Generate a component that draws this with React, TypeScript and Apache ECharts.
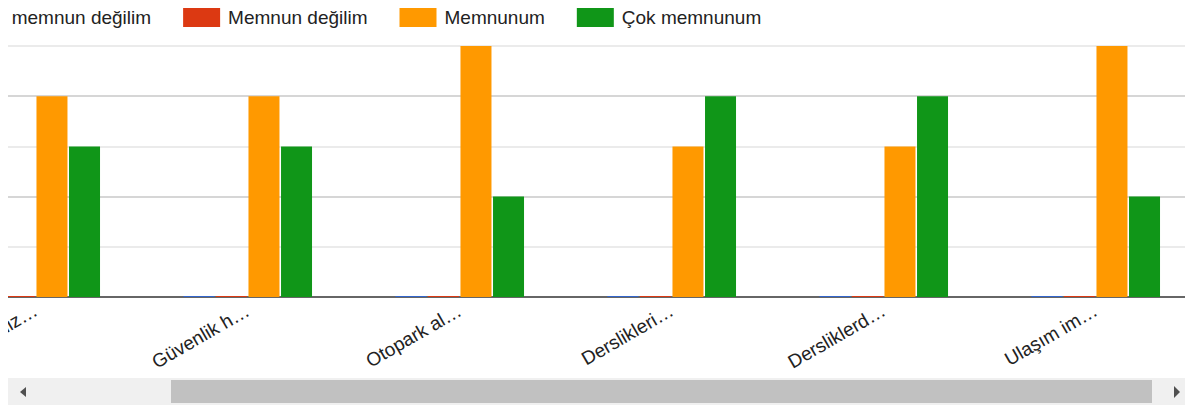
import React, { useEffect, useRef } from "react";
import * as echarts from "echarts";

const categories = [
  "Kantin hiz…",
  "Güvenlik h…",
  "Otopark al…",
  "Derslikleri…",
  "Dersliklerd…",
  "Ulaşım im…",
];
const seriesNames = ["Hiç memnun değilim", "Memnun değilim", "Memnunum", "Çok memnunum"];
const hicMemnunDegilim = [0, 0, 0, 0, 0, 0];
const memnunDegilim = [0, 0, 0, 0, 0, 0];
const memnunum = [4, 4, 5, 3, 3, 5];
const cokMemnunum = [3, 3, 2, 4, 4, 2];
const seriesColors = ["#3366cc", "#dc3912", "#ff9900", "#109618"];

const FONT = "'Liberation Sans', Arial, sans-serif";
const SHIFT = 100;

export default function App() {
  const ref = useRef<HTMLDivElement>(null);
  useEffect(() => {
    if (!ref.current) return;
    const chart = echarts.init(ref.current, undefined, { renderer: "svg" });
    const values = [hicMemnunDegilim, memnunDegilim, memnunum, cokMemnunum];
    chart.setOption({
      animation: false,
      color: seriesColors,
      textStyle: { fontFamily: FONT },
      legend: {
        left: SHIFT - 71,
        top: 3,
        itemWidth: 37,
        itemHeight: 19,
        itemGap: 32,
        icon: "rect",
        textStyle: { fontSize: 19, color: "#222", fontFamily: FONT, padding: [0, 0, 0, 3] },
        data: seriesNames,
      },
      grid: { left: SHIFT - 70.3, top: 46, width: 1272, height: 251, containLabel: false },
      xAxis: {
        type: "category",
        data: categories,
        axisTick: { show: false },
        axisLine: { lineStyle: { color: "#666", width: 2 } },
        axisLabel: {
          rotate: 30,
          margin: 12,
          fontSize: 19,
          color: "#222",
          fontFamily: FONT,
          interval: 0,
        },
      },
      yAxis: {
        type: "value",
        min: 0,
        max: 5,
        interval: 1,
        axisLabel: { show: false },
        axisLine: { show: false },
        axisTick: { show: false },
        splitLine: { lineStyle: { color: ["#d6d6d6", "#ebebeb"], width: 2 } },
      },
      series: seriesNames.map((name, i) => ({
        name,
        type: "bar",
        data: values[i],
        barWidth: 31,
        barGap: "5%",
        barMinHeight: 1,
        itemStyle: { color: seriesColors[i] },
      })),
      graphic: [
        { type: "rect", z: 100, shape: { x: 0, y: 0, width: SHIFT + 8, height: 410 }, style: { fill: "#fff" } },
        { type: "rect", z: 100, shape: { x: SHIFT + 8, y: 378, width: 1177, height: 27 }, style: { fill: "#f0f0f0" } },
        { type: "rect", z: 101, shape: { x: SHIFT + 171, y: 380, width: 981, height: 23 }, style: { fill: "#c1c1c1" } },
        { type: "polygon", z: 101, shape: { points: [[SHIFT + 20, 392], [SHIFT + 26, 387], [SHIFT + 26, 397]] }, style: { fill: "#505050" } },
        { type: "polygon", z: 101, shape: { points: [[SHIFT + 1174, 386], [SHIFT + 1180, 392], [SHIFT + 1174, 398]] }, style: { fill: "#505050" } },
      ],
    });
    return () => chart.dispose();
  }, []);
  return (
    <div style={{ position: "fixed", left: 0, top: 0, width: 1185, height: 410, overflow: "hidden", background: "#fff" }}>
      <div
        ref={ref}
        style={{ position: "absolute", left: -SHIFT, top: 0, width: 1185 + SHIFT + 40, height: 410 }}
      />
    </div>
  );
}
